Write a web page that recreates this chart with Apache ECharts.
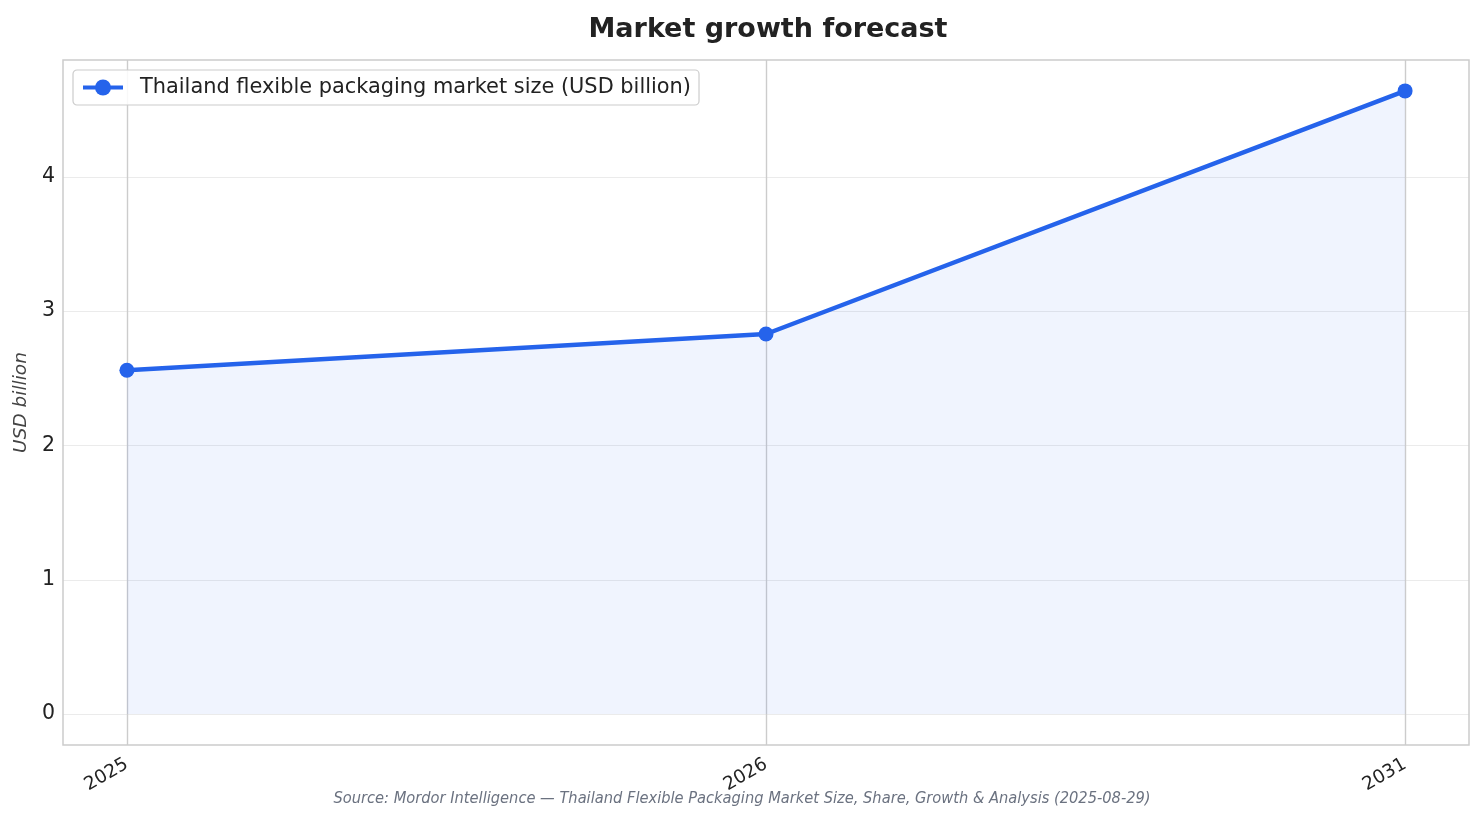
<!DOCTYPE html>
<html>
<head>
<meta charset="utf-8">
<title>Market growth forecast</title>
<script src="https://cdn.jsdelivr.net/npm/echarts@6/dist/echarts.min.js"></script>
<style>
  html, body { margin: 0; padding: 0; background: #fff; }
  #chart { width: 1484px; height: 823px; }
</style>
</head>
<body>
<div id="chart"></div>
<script>
// data
const years = ['2025', '2026', '2031']
const marketSize = [2.56, 2.83, 4.64]
const yTicks = [0, 1, 2, 3, 4]
const seriesName = 'Thailand flexible packaging market size (USD billion)'
const sourceText = 'Source: Mordor Intelligence — Thailand Flexible Packaging Market Size, Share, Growth & Analysis (2025-08-29)'

const xIdx = years.map((y, i) => i)
const points = marketSize.map((v, i) => [i, v])

const option = {
  animation: false,
  title: { // 标题，居中于绘图区
    text: 'Market growth forecast',
    left: 763,
    textAlign: 'center',
    top: 11,
    textStyle: {
      fontFamily: 'DejaVu Sans',
      fontSize: 27,
      fontWeight: 'bold',
      color: '#222'
    }
  },
  graphic: [
    { // 来源
      type: 'text',
      left: 'center',
      top: 791,
      style: {
        text: sourceText,
        font: 'italic 16.3px "DejaVu Sans Condensed", "DejaVu Sans"',
        fill: '#6b7280'
      }
    },
    { // 绘图区边框
      type: 'rect',
      shape: { x: 63, y: 60, width: 1406, height: 685 },
      style: { fill: 'none', stroke: '#cccccc', lineWidth: 1.5 },
      z: 10
    }
  ],
  legend: {
    left: 73,
    top: 70,
    orient: 'vertical',
    padding: [7, 8, 7, 8],
    borderColor: '#cccccc',
    borderWidth: 1.2,
    borderRadius: 4,
    backgroundColor: 'rgba(255,255,255,0.85)',
    itemWidth: 40,
    itemHeight: 20,
    itemGap: 10,
    lineStyle: { width: 4 },
    textStyle: {
      fontFamily: 'DejaVu Sans',
      fontSize: 20.9,
      color: '#222',
      padding: [0, 0, 0, 12]
    },
    data: [seriesName]
  },
  grid: {
    left: 63,
    right: 15,
    top: 60,
    bottom: 78,
    containLabel: false
  },
  xAxis: {
    type: 'value',
    min: -0.1,
    max: 2.1,
    axisLine: { show: false },
    axisTick: { show: false, customValues: xIdx },
    splitLine: { show: true, lineStyle: { color: '#cccccc', width: 1.4 } },
    axisLabel: {
      customValues: xIdx,
      rotate: 30,
      margin: 18,
      fontFamily: 'DejaVu Sans',
      fontSize: 18.5,
      color: '#222',
      formatter: (v) => years[Math.round(v)]
    }
  },
  yAxis: {
    type: 'value',
    min: -0.23,
    max: 4.87,
    name: 'USD billion',
    nameLocation: 'middle',
    nameGap: 26,
    nameTextStyle: {
      fontFamily: 'DejaVu Sans',
      fontSize: 18.5,
      fontStyle: 'italic',
      color: '#444'
    },
    axisLine: { show: false },
    axisTick: { show: false, customValues: yTicks },
    splitLine: { show: true, lineStyle: { color: '#ebebeb', width: 1.2 } },
    axisLabel: {
      customValues: yTicks,
      margin: 8,
      fontFamily: 'DejaVu Sans',
      fontSize: 20.5,
      color: '#222'
    }
  },
  series: [
    {
      name: seriesName,
      type: 'line',
      data: points,
      symbol: 'circle',
      symbolSize: 15,
      lineStyle: { color: '#2563eb', width: 4.5 },
      itemStyle: { color: '#2563eb' },
      areaStyle: { color: 'rgba(37,99,235,0.1)', origin: 0 },
      z: 5
    }
  ]
}

const myChart = echarts.init(document.getElementById('chart'))
myChart.setOption(option)
</script>
</body>
</html>
